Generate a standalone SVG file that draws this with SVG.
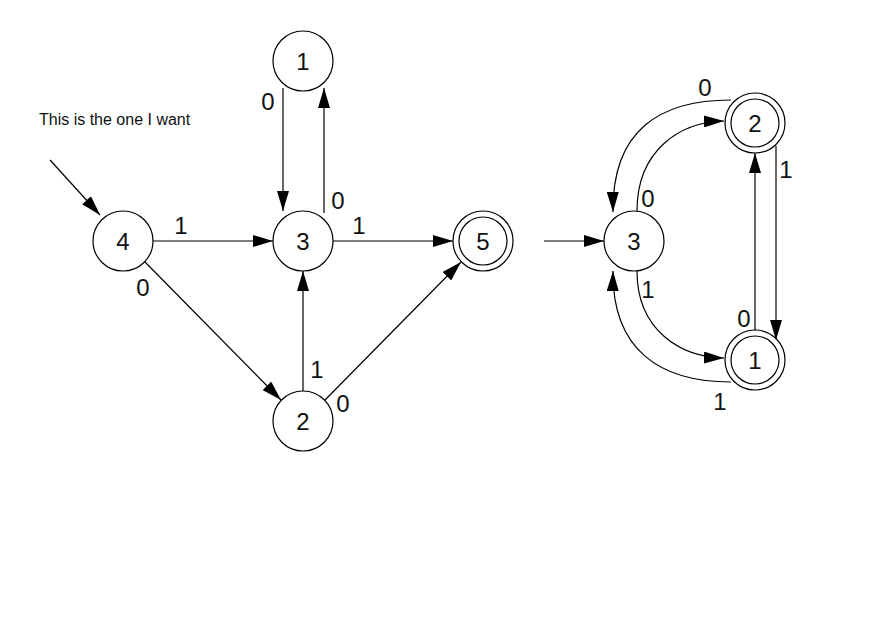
<svg xmlns="http://www.w3.org/2000/svg" width="882" height="628" viewBox="0 0 882 628">
<style>
.n{fill:#fff;stroke:#000;stroke-width:1.2}
.e{fill:none;stroke:#000;stroke-width:1.2;marker-end:url(#a)}
text{font-family:"Liberation Sans",Arial,sans-serif;font-size:24px;fill:#111}
.c{text-anchor:middle}
</style>
<defs><marker id="a" markerWidth="20" markerHeight="12" refX="20" refY="6" orient="auto" markerUnits="userSpaceOnUse"><path d="M0,0L20,6L0,12z" fill="#000"/></marker></defs>
<rect width="882" height="628" fill="#fff"/>
<g id="connectors">
<path class="e" d="M50,160L100,215"/>
<path class="e" d="M283,88L283,211"/>
<path class="e" d="M324,213L324,88"/>
<path class="e" d="M153,241L273,241"/>
<path class="e" d="M333,241L453,241"/>
<path class="e" d="M145,262L281,400"/>
<path class="e" d="M303,391L303,271"/>
<path class="e" d="M325,400L461,262"/>
<path class="e" d="M544,241L604,241"/>
<path class="e" d="M637,211C637,150 680,122 724,121"/>
<path class="e" d="M731,100C660,100 612,130 613,212"/>
<path class="e" d="M637,271C637,330 680,357 724,358"/>
<path class="e" d="M731,382C660,382 612,350 613,271"/>
<path class="e" d="M776,146L776,340"/>
<path class="e" d="M755,330L755,153"/>
</g>
<g id="labels">
<text x="39" y="125" style="font-size:16px">This is the one I want</text>
<text x="181" y="234" class="c">1</text>
<text x="143" y="296" class="c">0</text>
<text x="268" y="110" class="c">0</text>
<text x="338" y="209" class="c">0</text>
<text x="359" y="234" class="c">1</text>
<text x="317" y="378" class="c">1</text>
<text x="343" y="412" class="c">0</text>
<text x="705" y="96" class="c">0</text>
<text x="786" y="178" class="c">1</text>
<text x="648" y="207" class="c">0</text>
<text x="648" y="298" class="c">1</text>
<text x="744" y="327" class="c">0</text>
<text x="720" y="410" class="c">1</text>
</g>
<g id="L1"><circle class="n" cx="303" cy="61" r="30"/><text x="303" y="70" class="c">1</text></g>
<g id="L3"><circle class="n" cx="303" cy="241" r="30"/><text x="303" y="250" class="c">3</text></g>
<g id="L4"><circle class="n" cx="123" cy="241" r="30"/><text x="123" y="250" class="c">4</text></g>
<g id="L5"><circle class="n" cx="483" cy="241" r="30"/><circle class="n" cx="483" cy="241" r="24"/><text x="483" y="250" class="c">5</text></g>
<g id="L2"><circle class="n" cx="303" cy="421" r="30"/><text x="303" y="430" class="c">2</text></g>
<g id="R3"><circle class="n" cx="634" cy="241" r="30"/><text x="634" y="250" class="c">3</text></g>
<g id="R2"><circle class="n" cx="755" cy="123" r="30"/><circle class="n" cx="755" cy="123" r="24"/><text x="755" y="132" class="c">2</text></g>
<g id="R1"><circle class="n" cx="755" cy="360" r="30"/><circle class="n" cx="755" cy="360" r="24"/><text x="755" y="369" class="c">1</text></g>
</svg>
